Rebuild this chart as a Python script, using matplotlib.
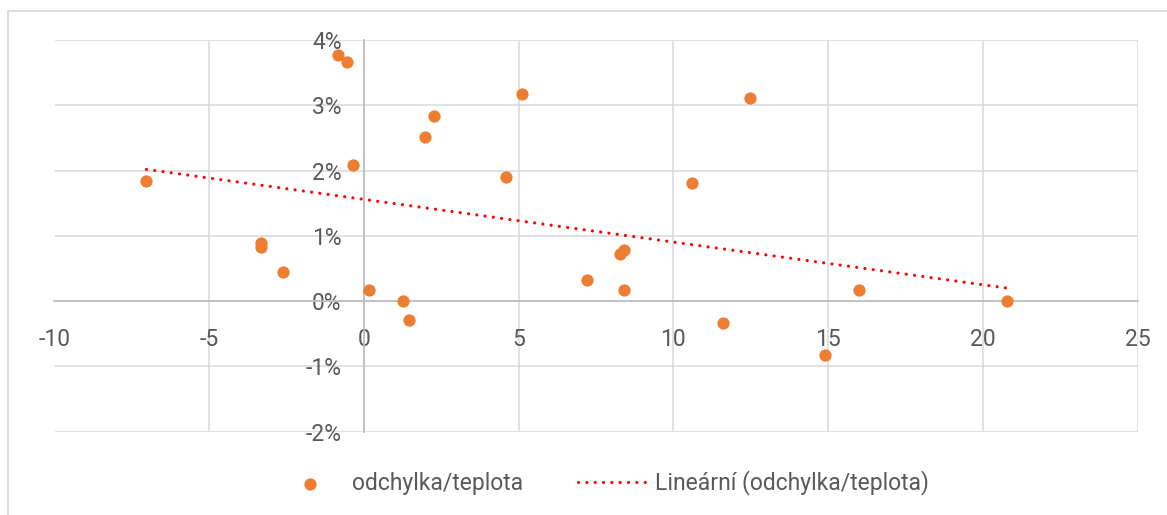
import numpy as np
import matplotlib
matplotlib.use("Agg")
import matplotlib.pyplot as plt
from matplotlib.lines import Line2D
from matplotlib.ticker import FuncFormatter

plt.rcParams['font.family'] = ['Roboto', 'DejaVu Sans']
plt.rcParams['axes.unicode_minus'] = False

# data
teplota = [-7.03, -0.84, -0.54, -0.34, -3.33, -3.33, -2.63, 0.16, 1.26, 1.46, 1.96, 2.25,
           4.59, 5.10, 7.20, 8.29, 8.41, 8.40, 10.60, 11.60, 12.49, 14.91, 16.00, 20.79]
odchylka_pct = [1.84, 3.77, 3.66, 2.08, 0.89, 0.83, 0.44, 0.17, 0.00, -0.29, 2.51, 2.83,
                1.90, 3.18, 0.33, 0.72, 0.78, 0.17, 1.81, -0.34, 3.11, -0.83, 0.17, 0.00]
x_ticks = [-10, -5, 0, 5, 10, 15, 20, 25]
y_ticks_pct = [-2, -1, 0, 1, 2, 3, 4]
series_label = "odchylka/teplota"
trend_label = "Lineární (odchylka/teplota)"

x = np.array(teplota)
y = np.array(odchylka_pct) / 100.0

W, H = 1167, 515
fig = plt.figure(figsize=(W / 100, H / 100), dpi=100)
ax = fig.add_axes([54.5 / W, 1 - 431.7 / H, (1137.5 - 54.5) / W, (431.7 - 40) / H])

grid_c = '#D9D9D9'
axis_c = '#BFBFBF'
text_c = '#595959'
orange = '#ED7D31'

ax.set_xlim(-10, 25)
ax.set_ylim(-0.02, 0.04)
ax.set_xticks(x_ticks)
ax.set_yticks([v / 100 for v in y_ticks_pct])
ax.grid(True, color=grid_c, linewidth=1.1, zorder=0)
ax.set_axisbelow(True)
for s in ['top', 'right']:
    ax.spines[s].set_visible(False)
ax.spines['left'].set_position(('data', 0))
ax.spines['bottom'].set_position(('data', 0))
for s in ['left', 'bottom']:
    ax.spines[s].set_color(axis_c)
    ax.spines[s].set_linewidth(1.3)
ax.tick_params(axis='both', length=0, labelsize=16.5, labelcolor=text_c)
ax.tick_params(axis='y', pad=16)
ax.tick_params(axis='x', pad=19)
ax.yaxis.set_major_formatter(FuncFormatter(lambda v, p: f"{round(v * 100):d}%"))
ax.xaxis.set_major_formatter(FuncFormatter(lambda v, p: f"{int(round(v))}"))

sc = ax.scatter(x, y, s=78, color=orange, zorder=3, linewidths=0, label=series_label)

coef = np.polyfit(x, y, 1)
xt = np.array([x.min(), x.max()])
tl, = ax.plot(xt, np.polyval(coef, xt), color='#FF0000', linewidth=2.3,
              linestyle=(0, (0.01, 2.6)), dash_capstyle='round', zorder=4, label=trend_label)

# outer chart border
fig.add_artist(Line2D([8 / W, 8 / W, 1.0], [0.0, 1 - 11 / H, 1 - 11 / H],
                      transform=fig.transFigure, color=grid_c, linewidth=1.3))

leg = fig.legend(handles=[sc, tl], labels=[series_label, trend_label], ncol=2,
                 loc='center', bbox_to_anchor=(602 / W, 1 - 483 / H), frameon=False,
                 fontsize=16.5, labelcolor=text_c, handlelength=3.03, handletextpad=0.33,
                 columnspacing=2.38, borderpad=0, borderaxespad=0)

fig.savefig("out.png", dpi=100)
